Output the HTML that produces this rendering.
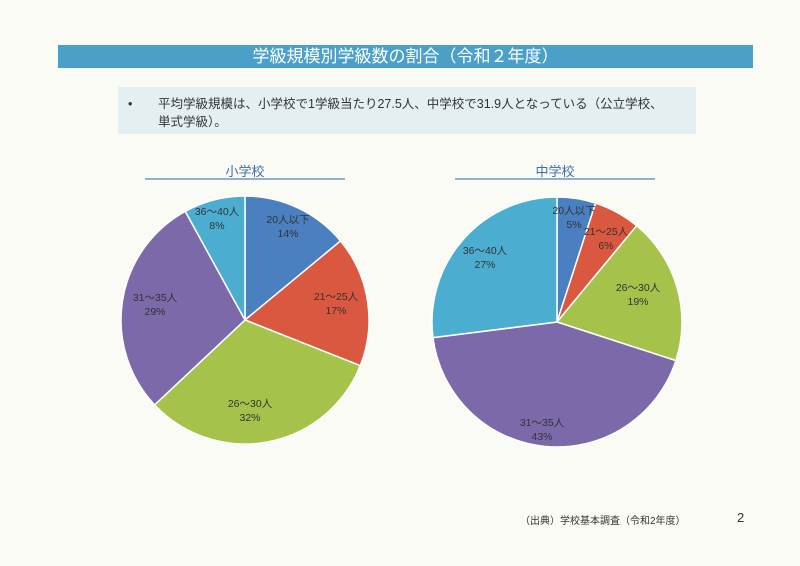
<!DOCTYPE html>
<html><head><meta charset="utf-8"><style>
body{margin:0;width:800px;height:566px;background:#fbfbf5;font-family:"Liberation Sans","Noto Sans CJK JP",sans-serif;overflow:hidden;position:relative}
.title{position:absolute;left:58px;top:45px;width:695px;height:23px;background:#4ba0c9;color:#fff;font-size:17px;text-align:center;line-height:23px}
.box{position:absolute;left:118px;top:87px;width:578px;height:47px;background:#e4eff2;font-size:12.5px;color:#333;line-height:18px}
.box span{position:absolute}
.h{position:absolute;font-size:13px;color:#3a6fa8;text-align:center}
.ln{position:absolute;height:2px;background:#8fb0cf}
.foot{position:absolute;font-size:10px;color:#333}
</style></head><body>
<div class="title">学級規模別学級数の割合（令和２年度）</div>
<div class="box"><span style="left:10px;top:8px">•</span><span style="left:40px;top:8px">平均学級規模は、小学校で1学級当たり27.5人、中学校で31.9人となっている（公立学校、<br>単式学級）。</span></div>
<div class="h" style="left:145px;top:161px;width:200px">小学校</div>
<div class="ln" style="left:145px;top:178px;width:200px"></div>
<div class="h" style="left:455px;top:161px;width:200px">中学校</div>
<div class="ln" style="left:455px;top:178px;width:200px"></div>
<svg id="s" width="800" height="566" style="position:absolute;left:0;top:0"></svg>
<div class="foot" style="left:520px;top:512px">（出典）学校基本調査（令和2年度）</div>
<div class="foot" style="left:737px;top:510px;font-size:13px">2</div>
<script>
var C=["#4a7fc0","#d9583f","#a5c24b","#7b69a9","#4baed1"];
function pie(cx,cy,r,v){var a=0,o="";for(var i=0;i<v.length;i++){var a0=a*2*Math.PI/100,a1=(a+v[i])*2*Math.PI/100;a+=v[i];
var x0=cx+r*Math.sin(a0),y0=cy-r*Math.cos(a0),x1=cx+r*Math.sin(a1),y1=cy-r*Math.cos(a1);
o+='<path d="M'+cx+' '+cy+'L'+x0+' '+y0+'A'+r+' '+r+' 0 '+(v[i]>50?1:0)+' 1 '+x1+' '+y1+'Z" fill="'+C[i]+'" stroke="#fff" stroke-width="1.5"/>';}return o;}
function lab(x,y,a,b){return '<text x="'+x+'" y="'+y+'" font-size="10.5" fill="#333" text-anchor="middle">'+a+'</text><text x="'+x+'" y="'+(y+14)+'" font-size="10.5" fill="#333" text-anchor="middle">'+b+'</text>';}
var s=pie(245,320,124,[14,17,32,29,8])+pie(557,322,125,[5,6,19,43,27]);
s+=lab(288,223,"20人以下","14%")+lab(336,300,"21～25人","17%")+lab(250,407,"26～30人","32%")+lab(155,301,"31～35人","29%")+lab(217,215,"36～40人","8%");
s+=lab(574,214,"20人以下","5%")+lab(606,235,"21～25人","6%")+lab(638,291,"26～30人","19%")+lab(542,426,"31～35人","43%")+lab(485,254,"36～40人","27%");
document.getElementById("s").innerHTML=s;
</script>
</body></html>
